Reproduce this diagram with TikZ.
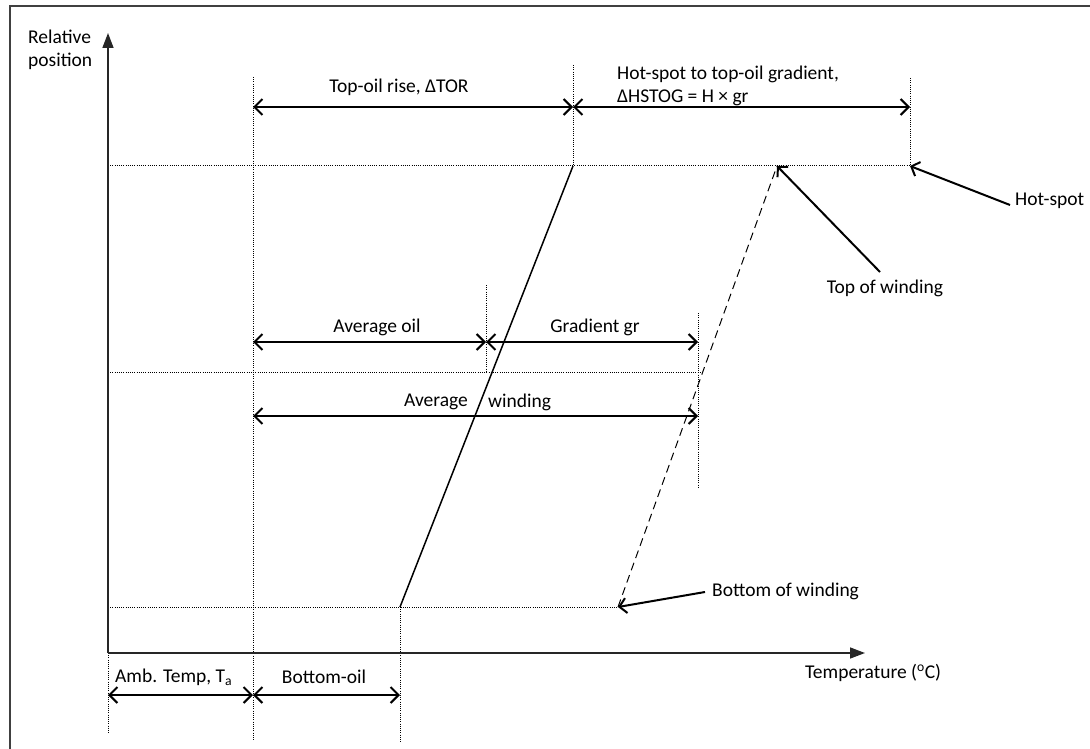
\documentclass[tikz,border=0pt]{standalone}
\usepackage{fontspec}
\setmainfont{Carlito}
\usetikzlibrary{arrows.meta}
\begin{document}
\begin{tikzpicture}[x=1pt,y=-1pt,
  lbl/.style={font=\fontsize{19.5}{23}\selectfont, inner sep=0pt},
  guide/.style={line width=1pt, dash pattern=on 1pt off 1.2pt, black},
  dim/.style={line width=2pt, {Straight Barb[length=8pt,width=16pt]}-{Straight Barb[length=8pt,width=16pt]}},
  pointer/.style={line width=2pt, -{Straight Barb[length=7pt,width=15pt]}},
  axis/.style={line width=1.5pt, black!85, -{Triangle[length=15pt,width=11pt]}},
]
\useasboundingbox (0,0) rectangle (1090,749);
% frame
\draw[line width=2pt, black!75] (10,749) -- (10,6) -- (1090,6);

% key points
\coordinate (O) at (108,653);
\coordinate (ytip) at (108,33);
\coordinate (xtip) at (865,653);
\coordinate (oilbot) at (400,607);
\coordinate (oiltop) at (573,166);
\coordinate (wdgbot) at (618,607);
\coordinate (wdgtop) at (777,166);
\coordinate (hs) at (910,166);

% guide lines
\draw[guide] (108,166) -- (hs);
\draw[guide] (108,372) -- (703,372);
\draw[guide] (108,607) -- (wdgbot);
\draw[guide] (253,77) -- (253,740);
\draw[guide] (O) -- (108,733);
\draw[guide] (oilbot) -- (400,742);
\draw[guide] (573,65) -- (oiltop);
\draw[guide] (910,78) -- (hs);
\draw[guide] (486,285) -- (486,372);
\draw[guide] (698,313) -- (698,487);

% axes
\draw[axis] (O) -- (ytip);
\draw[axis] (O) -- (xtip);

% oil and winding profiles
\draw[line width=1.5pt] (oilbot) -- (oiltop);
\draw[line width=1pt, dash pattern=on 8pt off 5pt] (wdgbot) -- (wdgtop);

% dimension arrows
\coordinate (d1a) at (253,107); \coordinate (d1b) at (573,107); \coordinate (d1c) at (910,107);
\coordinate (d2a) at (253,342); \coordinate (d2b) at (486,342); \coordinate (d2c) at (698,342);
\coordinate (d3a) at (253,416); \coordinate (d3b) at (698,416);
\coordinate (d4a) at (108,695); \coordinate (d4b) at (253,695); \coordinate (d4c) at (400,695);
\draw[dim] (d1a) -- (d1b);
\draw[dim] (d1b) -- (d1c);
\draw[dim] (d2a) -- (d2b);
\draw[dim] (d2b) -- (d2c);
\draw[dim] (d3a) -- (d3b);
\draw[dim] (d4a) -- (d4b);
\draw[dim] (d4b) -- (d4c);

% labels
\node[lbl, anchor=west, align=left] (relpos) at (28,50) {Relative\\position};
\node[lbl] (tor) at (399,87) {Top-oil rise, ΔTOR};
\node[lbl, anchor=west, align=left] (hstog) at (617,86) {Hot-spot to top-oil gradient,\\ΔHSTOG = H × gr};
\node[lbl] (avoil) at (377,327) {Average oil};
\node[lbl] (grad) at (595,327) {Gradient gr};
\node[lbl, anchor=east] (avw1) at (468,402) {Average};
\node[lbl, anchor=west] (avw2) at (488,402) {winding};
\node[lbl, anchor=west] (temp) at (805,673) {Temperature (\textsuperscript{o}C)};
\node[lbl, anchor=west] (amb) at (115,677) {Amb. Temp, T\textsubscript{a}};
\node[lbl] (botoil) at (324,677) {Bottom-oil};
\node[lbl, anchor=west] (botw) at (712,591) {Bottom of winding};
\node[lbl] (topw) at (885,288) {Top of winding};
\node[lbl, anchor=west] (hotspot) at (1015,201) {Hot-spot};

% pointers
\coordinate (p1) at (1010,205);
\coordinate (p2) at (880,272);
\coordinate (p3) at (705,592);
\draw[pointer] (p1) -- (hs);
\draw[pointer] (p2) -- (wdgtop);
\draw[pointer] (p3) -- (wdgbot);
\end{tikzpicture}
\end{document}
